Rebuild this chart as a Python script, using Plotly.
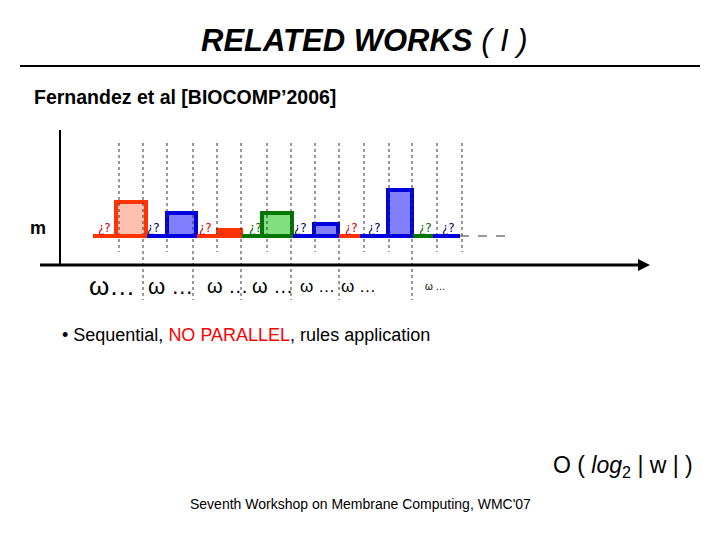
import plotly.graph_objects as go

# bars: left, right, top (in slide pixel units), colours
bar_left = [116, 167, 218, 262, 314, 388]
bar_right = [146, 196, 241, 292, 338, 412]
bar_top = [202, 213, 230, 213, 224, 190]
bar_line = ["#ff3300", "#0000dd", "#ff3300", "#007700", "#0000dd", "#0000dd"]
bar_fill = ["#ffc0b0", "#8080ff", "#ff3300", "#80e080", "#8080ff", "#8080ff"]
baseline_y = 236
seg_x = [93, 147, 197, 242, 293, 339, 360, 413, 433, 460]
seg_col = ["#ff3300", "#0000dd", "#ff3300", "#007700", "#0000dd", "#ff3300", "#0000dd", "#007700", "#0000dd"]
q_x = [104, 153, 205, 255, 300, 351, 374, 425, 448]
q_col = ["#cc0000", "#000066", "#cc0000", "#006600", "#000066", "#cc0000", "#000066", "#006600", "#000066"]
grid_x = [119, 143, 167, 193, 217, 241, 267, 291, 315, 339, 364, 389, 412, 437, 462]
grid_long = [143, 193, 241, 291, 339, 412]
w_x = [112, 170, 227, 272, 317, 358, 435]
w_size = [26, 22, 20, 20, 17, 17, 10]

fig = go.Figure()
for gx in grid_x:
    y1 = 300 if gx in grid_long else 252
    fig.add_trace(go.Scatter(x=[gx, gx], y=[143, y1], mode="lines",
                             line=dict(color="#333", width=1, dash="dot"), hoverinfo="skip"))
for i in range(len(seg_col)):
    fig.add_trace(go.Scatter(x=[seg_x[i], seg_x[i+1]], y=[baseline_y, baseline_y], mode="lines",
                             line=dict(color=seg_col[i], width=4)))
fig.add_trace(go.Scatter(x=[460, 508], y=[baseline_y, baseline_y], mode="lines",
                         line=dict(color="#333", width=1, dash="dash")))
for l, r, t, lc, fc in zip(bar_left, bar_right, bar_top, bar_line, bar_fill):
    fig.add_trace(go.Bar(x=[(l + r) / 2], y=[baseline_y - t], base=[t], width=[r - l],
                         marker=dict(color=fc, line=dict(color=lc, width=4))))
for x, c in zip(q_x, q_col):
    fig.add_annotation(x=x, y=228, text="¿?", showarrow=False, font=dict(size=12, color=c, family="DejaVu Sans"))
for x, s in zip(w_x, w_size):
    fig.add_annotation(x=x, y=286, text="ω …" if s < 26 else "ω…", showarrow=False,
                       font=dict(size=s, color="black", family="Liberation Sans"))
# axes
fig.add_trace(go.Scatter(x=[60, 60], y=[266, 130], mode="lines", line=dict(color="black", width=2)))
fig.add_trace(go.Scatter(x=[40, 645], y=[265, 265], mode="lines", line=dict(color="black", width=3)))
fig.add_annotation(x=650, y=265, ax=640, ay=265, axref="x", ayref="y", showarrow=True, arrowhead=2,
                   arrowsize=1.2, arrowwidth=2, arrowcolor="black", text=" ")
fig.add_annotation(x=60, y=122, ax=60, ay=132, axref="x", ayref="y", showarrow=True, arrowhead=2,
                   arrowsize=1.2, arrowwidth=2, arrowcolor="black", text=" ")
fig.add_trace(go.Scatter(x=[20, 700], y=[66, 66], mode="lines", line=dict(color="black", width=2)))

fig.add_annotation(x=364, y=40, text="<i><b>RELATED WORKS</b> ( I )</i>", showarrow=False,
                   font=dict(size=31, family="Liberation Sans", color="black"))
fig.add_annotation(x=32, y=97, text="<b>Fernandez et al [BIOCOMP’2006]</b>", showarrow=False, xanchor="left",
                   font=dict(size=19.5, family="Liberation Sans", color="black"))
fig.add_annotation(x=38, y=228, text="<b>m</b>", showarrow=False, font=dict(size=18, family="Liberation Sans", color="black"))
fig.add_annotation(x=60, y=335, xanchor="left", showarrow=False,
                   text="• Sequential, <span style='color:#ff0000'>NO PARALLEL</span>, rules application",
                   font=dict(size=18, family="Liberation Sans", color="black"))
fig.add_annotation(x=695, y=466, xanchor="right", showarrow=False,
                   text="O ( <i>log</i><sub>2</sub> | w | )", font=dict(size=23, family="Liberation Sans", color="black"))
fig.add_annotation(x=360, y=504, showarrow=False, text="Seventh Workshop on Membrane Computing, WMC'07",
                   font=dict(size=14, family="Liberation Sans", color="black"))

fig.update_layout(width=720, height=540, margin=dict(l=0, r=0, t=0, b=0), showlegend=False,
                  plot_bgcolor="white", paper_bgcolor="white", barmode="overlay",
                  xaxis=dict(range=[8, 728], visible=False, fixedrange=True),
                  yaxis=dict(range=[548, 8], visible=False, fixedrange=True))
fig.write_html("out.html")
